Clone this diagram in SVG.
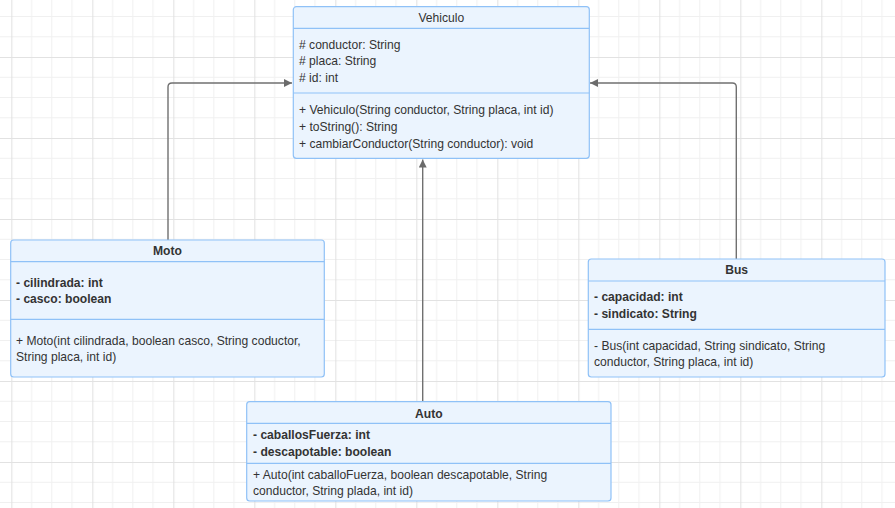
<svg xmlns="http://www.w3.org/2000/svg" width="895" height="508" viewBox="0 0 895 508">
<defs>
<pattern id="grid" width="81" height="81" patternUnits="userSpaceOnUse" x="11.3" y="57">
<path d="M20.25 0V81M40.5 0V81M60.75 0V81M0 20.25H81M0 40.5H81M0 60.75H81" stroke="#f0f0f0" stroke-width="1" fill="none"/>
<path d="M0.5 0V81M0 0.5H81" stroke="#e2e2e2" stroke-width="1.2" fill="none"/>
</pattern>
<marker id="arr" viewBox="0 0 10 10" refX="10" refY="5" markerWidth="8" markerHeight="8" markerUnits="userSpaceOnUse" orient="auto">
<path d="M0 0L10 5L0 10Z" fill="#6b6b6b"/>
</marker>
<style>
.box{fill:#ebf4fe;stroke:#8fc1f7;stroke-width:1.2}
.sep{stroke:#8fc1f7;stroke-width:1.2}
.t{font-family:"Liberation Sans",Arial,sans-serif;font-size:12.1px;fill:#333333}
.b{font-weight:bold}
.title{text-anchor:middle}
.conn{fill:none;stroke:#707070;stroke-width:1.4}
</style>
</defs>
<rect width="895" height="508" fill="#ffffff"/>
<rect width="895" height="508" fill="url(#grid)"/>
<g id="connectors">
<path class="conn" d="M168 240V87Q168 83 172 83H292" marker-end="url(#arr)"/>
<path class="conn" d="M736.3 259V87Q736.3 83 732.3 83H590" marker-end="url(#arr)"/>
<path class="conn" d="M422.7 401.7V159.5" marker-end="url(#arr)" stroke="#8a8a8a" stroke-width="1.8"/>
</g>
<g id="Vehiculo">
<rect class="box" x="293.3" y="6.7" width="296" height="151.6" rx="3"/>
<line class="sep" x1="293.3" y1="28.3" x2="589.3" y2="28.3"/>
<line class="sep" x1="293.3" y1="93" x2="589.3" y2="93"/>
<text class="t title" x="441.3" y="22">Vehiculo</text>
<text class="t" x="299" y="48.5">
<tspan x="299" y="48.5"># conductor: String</tspan>
<tspan x="299" y="65"># placa: String</tspan>
<tspan x="299" y="81.5"># id: int</tspan>
</text>
<text class="t">
<tspan x="299" y="114">+ Vehiculo(String conductor, String placa, int id)</tspan>
<tspan x="299" y="131">+ toString(): String</tspan>
<tspan x="299" y="147.5">+ cambiarConductor(String conductor): void</tspan>
</text>
</g>
<g id="Moto">
<rect class="box" x="10.7" y="240" width="313.6" height="137" rx="3"/>
<line class="sep" x1="10.7" y1="261.7" x2="324.3" y2="261.7"/>
<line class="sep" x1="10.7" y1="319.3" x2="324.3" y2="319.3"/>
<text class="t title b" x="167.5" y="255">Moto</text>
<text class="t b">
<tspan x="16" y="286.5">- cilindrada: int</tspan>
<tspan x="16" y="303">- casco: boolean</tspan>
</text>
<text class="t">
<tspan x="16" y="345">+ Moto(int cilindrada, boolean casco, String coductor,</tspan>
<tspan x="16" y="361">String placa, int id)</tspan>
</text>
</g>
<g id="Bus">
<rect class="box" x="588.3" y="259" width="296.7" height="118" rx="3"/>
<line class="sep" x1="588.3" y1="281" x2="885" y2="281"/>
<line class="sep" x1="588.3" y1="329.3" x2="885" y2="329.3"/>
<text class="t title b" x="736.6" y="274">Bus</text>
<text class="t b">
<tspan x="594" y="301">- capacidad: int</tspan>
<tspan x="594" y="317.5">- sindicato: String</tspan>
</text>
<text class="t">
<tspan x="594" y="350">- Bus(int capacidad, String sindicato, String</tspan>
<tspan x="594" y="366">conductor, String placa, int id)</tspan>
</text>
</g>
<g id="Auto">
<rect class="box" x="246.7" y="401.7" width="364.3" height="99.3" rx="3"/>
<line class="sep" x1="246.7" y1="423.3" x2="611" y2="423.3"/>
<line class="sep" x1="246.7" y1="463.3" x2="611" y2="463.3"/>
<text class="t title b" x="428.8" y="417.5">Auto</text>
<text class="t b">
<tspan x="253" y="439">- caballosFuerza: int</tspan>
<tspan x="253" y="455.5">- descapotable: boolean</tspan>
</text>
<text class="t">
<tspan x="253" y="479">+ Auto(int caballoFuerza, boolean descapotable, String</tspan>
<tspan x="253" y="495">conductor, String plada, int id)</tspan>
</text>
</g>
</svg>
